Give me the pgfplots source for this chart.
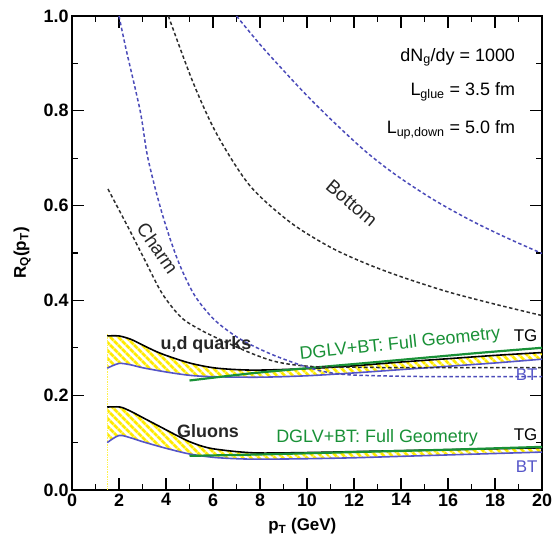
\documentclass[border=0pt]{standalone}
\usepackage{fontspec}
\setmainfont{Liberation Sans}
\usepackage{pgfplots}
\pgfplotsset{compat=1.18}
\usepgfplotslibrary{fillbetween}
\usetikzlibrary{patterns.meta}
\definecolor{bdash}{RGB}{75,75,185}
\definecolor{kdash}{RGB}{45,45,45}
\definecolor{btblue}{RGB}{85,85,200}
\definecolor{dgreen}{RGB}{25,145,55}
\definecolor{hatch}{RGB}{255,235,0}
\begin{document}
\begin{tikzpicture}
\begin{axis}[
  at={(0,0)}, anchor=south west, scale only axis,
  width=470bp, height=474bp,
  xmin=0, xmax=20, ymin=0, ymax=1,
  xtick={0,2,4,6,8,10,12,14,16,18,20},
  ytick={0,0.2,0.4,0.6,0.8,1.0},
  minor xtick={1,3,5,7,9,11,13,15,17,19},
  minor ytick={0.1,0.3,0.5,0.7,0.9},
  tick align=inside,
  major tick length=12bp, minor tick length=6bp,
  tick style={line width=1.3bp, black},
  minor tick style={line width=1.3bp, black},
  axis line style={line width=1.5bp},
  /pgf/number format/assume math mode=true,
  ticklabel style={font=\fontsize{18}{18}\selectfont\bfseries},
  yticklabel style={/pgf/number format/.cd, fixed, fixed zerofill, precision=1},
  xticklabel style={/pgf/number format/.cd, fixed, precision=0},
  xlabel={\textbf{p\textsubscript{T} (GeV)}},
  ylabel={\textbf{R\textsubscript{Q}(p\textsubscript{T})}},
  label style={font=\fontsize{17}{17}\selectfont},
  xlabel style={at={(axis description cs:0.49,-0.077)}, anchor=center},
  ylabel style={at={(axis description cs:-0.106,0.5)}, anchor=center},
  clip=true,
]
% vertical faint line
\addplot[hatch!70, densely dotted, line width=0.7bp] coordinates {(1.5,0) (1.5,0.33)};

% u,d quarks band
\addplot[name path=udTG, draw=none, forget plot, smooth] coordinates {
(1.5,0.325)(2.0,0.325)(2.5,0.318)(3,0.306)(3.5,0.294)(4,0.284)(5,0.268)(6,0.258)(7,0.254)(8,0.253)(10,0.256)(12,0.262)(14,0.270)(16,0.277)(18,0.284)(20,0.290)};
\addplot[name path=udBT, draw=none, forget plot, smooth] coordinates {
(1.5,0.257)(2.0,0.267)(2.5,0.264)(3,0.258)(4,0.249)(5,0.242)(6,0.239)(8,0.238)(10,0.241)(12,0.247)(14,0.254)(16,0.261)(18,0.268)(20,0.276)};
\addplot[pattern={Lines[angle=-45, distance=6bp, line width=3.2bp]}, pattern color=hatch, draw=none] fill between[of=udTG and udBT];

% gluon band
\addplot[name path=gTG, draw=none, forget plot, smooth] coordinates {
(1.5,0.175)(2.05,0.175)(2.5,0.166)(3,0.153)(3.5,0.140)(4,0.127)(4.5,0.114)(5,0.102)(5.5,0.093)(6,0.087)(7,0.081)(8,0.078)(10,0.079)(12,0.081)(14,0.083)(16,0.085)(18,0.087)(20,0.089)};
\addplot[name path=gBT, draw=none, forget plot, smooth] coordinates {
(1.5,0.100)(2.0,0.115)(2.5,0.110)(3,0.102)(4,0.088)(5,0.076)(6,0.069)(7,0.066)(8,0.065)(10,0.066)(12,0.068)(14,0.071)(16,0.074)(18,0.077)(20,0.080)};
\addplot[pattern={Lines[angle=-45, distance=6bp, line width=3.2bp]}, pattern color=hatch, draw=none] fill between[of=gTG and gBT];

% solid TG / BT lines
\addplot[black, line width=1.6bp, smooth] coordinates {
(1.5,0.325)(2.0,0.325)(2.5,0.318)(3,0.306)(3.5,0.294)(4,0.284)(5,0.268)(6,0.258)(7,0.254)(8,0.253)(10,0.256)(12,0.262)(14,0.270)(16,0.277)(18,0.284)(20,0.290)};
\addplot[btblue, line width=1.6bp, smooth] coordinates {
(1.5,0.257)(2.0,0.267)(2.5,0.264)(3,0.258)(4,0.249)(5,0.242)(6,0.239)(8,0.238)(10,0.241)(12,0.247)(14,0.254)(16,0.261)(18,0.268)(20,0.276)};
\addplot[black, line width=1.6bp, smooth] coordinates {
(1.5,0.175)(2.05,0.175)(2.5,0.166)(3,0.153)(3.5,0.140)(4,0.127)(4.5,0.114)(5,0.102)(5.5,0.093)(6,0.087)(7,0.081)(8,0.078)(10,0.079)(12,0.081)(14,0.083)(16,0.085)(18,0.087)(20,0.089)};
\addplot[btblue, line width=1.6bp, smooth] coordinates {
(1.5,0.100)(2.0,0.115)(2.5,0.110)(3,0.102)(4,0.088)(5,0.076)(6,0.069)(7,0.066)(8,0.065)(10,0.066)(12,0.068)(14,0.071)(16,0.074)(18,0.077)(20,0.080)};

% green DGLV+BT full geometry
\addplot[dgreen, line width=2.2bp, smooth] coordinates {
(5,0.231)(7.6,0.246)(10,0.257)(12.3,0.267)(15,0.279)(17.5,0.290)(20,0.300)};
\addplot[dgreen, line width=2.2bp, smooth] coordinates {
(5,0.072)(8,0.075)(12,0.080)(16,0.085)(20,0.091)};

% charm
\addplot[kdash, line width=1.5bp, dash pattern=on 3.5bp off 2.5bp, smooth] coordinates {
(1.53,0.635)(2.38,0.555)(3.1,0.485)(3.83,0.415)(4.65,0.364)(5.5,0.337)(6.5,0.313)(7.6,0.289)(8.5,0.273)(9.3,0.265)(10.4,0.260)(12,0.259)(14,0.258)(16,0.258)(18,0.258)(20,0.258)};
\addplot[bdash, line width=1.5bp, dash pattern=on 3.5bp off 2.5bp, smooth] coordinates {
(2.0,1.0)(2.3,0.93)(2.9,0.80)(3.23,0.70)(3.83,0.584)(4.5,0.485)(5.2,0.412)(6.0,0.362)(6.8,0.330)(7.5,0.309)(8.55,0.285)(9.7,0.264)(10.7,0.250)(11.8,0.243)(14,0.240)(16,0.239)(18,0.239)(20,0.239)};

% bottom
\addplot[kdash, line width=1.5bp, dash pattern=on 3.5bp off 2.5bp, smooth] coordinates {
(4.1,1.0)(5.15,0.86)(6.17,0.750)(7.57,0.642)(9.28,0.565)(11.0,0.512)(12.5,0.478)(14,0.450)(16,0.418)(18,0.392)(20,0.368)};
\addplot[bdash, line width=1.5bp, dash pattern=on 3.5bp off 2.5bp, smooth] coordinates {
(7.0,1.0)(8.0,0.94)(9.0,0.885)(10.0,0.832)(11.1,0.778)(12.5,0.714)(13.8,0.664)(15.4,0.612)(17,0.568)(18.5,0.532)(20,0.499)};

% labels
\node[font=\fontsize{19}{19}\selectfont, rotate=-55, text=black!85] at (axis cs:3.65,0.51) {Charm};
\node[font=\fontsize{19}{19}\selectfont, rotate=-40, text=black!85] at (axis cs:11.9,0.605) {Bottom};
\node[font=\fontsize{18}{18}\selectfont\bfseries, anchor=base, text=black!85] at (axis cs:5.7,0.296) {u,d quarks};
\node[font=\fontsize{18}{18}\selectfont\bfseries, anchor=base, text=black!85] at (axis cs:5.79,0.110) {Gluons};
\node[font=\fontsize{18}{18}\selectfont, rotate=6, text=dgreen] at (axis cs:13.96,0.307) {DGLV+BT: Full Geometry};
\node[font=\fontsize{18}{18}\selectfont, anchor=base, text=dgreen] at (axis cs:12.98,0.101) {DGLV+BT: Full Geometry};
\node[font=\fontsize{17}{17}\selectfont, text=black] at (axis cs:19.3,0.325) {TG};
\node[font=\fontsize{17}{17}\selectfont, text=black] at (axis cs:19.3,0.116) {TG};
\node[font=\fontsize{17}{17}\selectfont, text=btblue] at (axis cs:19.35,0.243) {BT};
\node[font=\fontsize{17}{17}\selectfont, text=btblue] at (axis cs:19.35,0.049) {BT};
\node[font=\fontsize{18}{18}\selectfont, anchor=base east] at (axis cs:19.0,0.905) {dN\textsubscript{g}/dy = 1000};
\node[font=\fontsize{18}{18}\selectfont, anchor=base east] at (axis cs:19.0,0.833) {L\textsubscript{glue} = 3.5 fm};
\node[font=\fontsize{18}{18}\selectfont, anchor=base east] at (axis cs:19.0,0.753) {L\textsubscript{up,down} = 5.0 fm};
\end{axis}
\pgfresetboundingbox
\path (-72bp,-47bp) rectangle (481bp,490bp);
\end{tikzpicture}
\end{document}
